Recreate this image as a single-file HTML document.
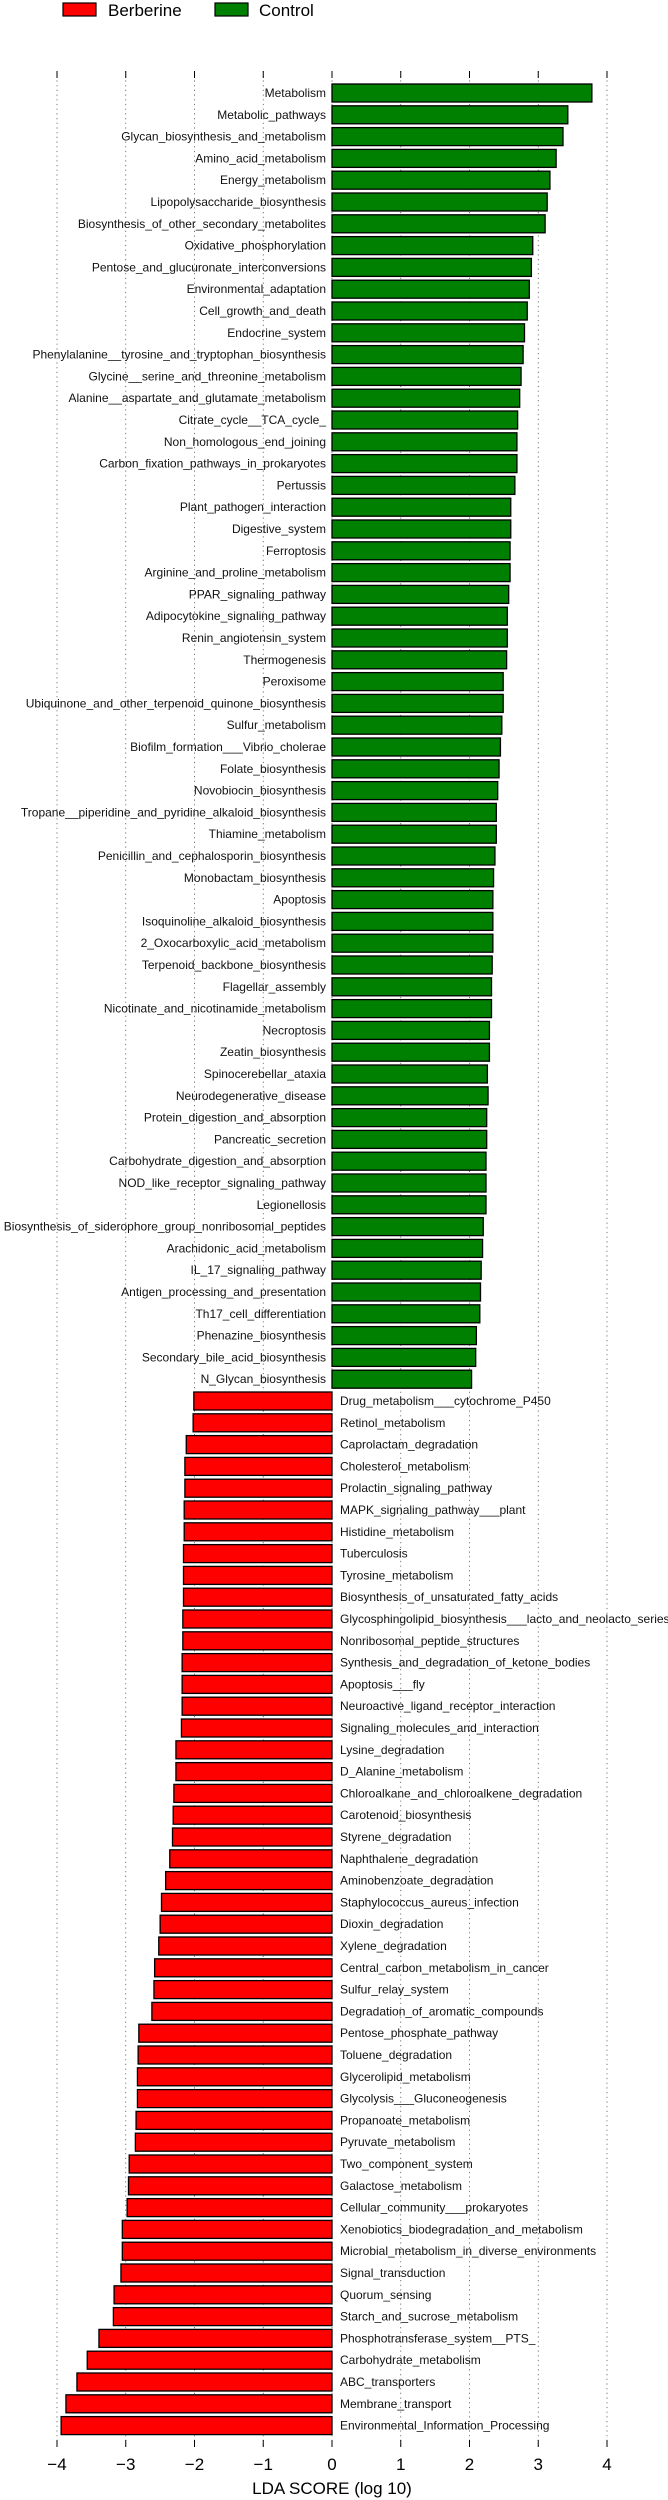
<!DOCTYPE html>
<html><head><meta charset="utf-8">
<style>
html,body{margin:0;padding:0;background:#fff;}
svg{display:block;font-family:"Liberation Sans","DejaVu Sans",sans-serif;}
</style></head>
<body>
<svg id="chart" width="668" height="2500" viewBox="0 0 668 2500" xmlns="http://www.w3.org/2000/svg">
  <g>
    <rect x="63" y="3" width="33" height="13" fill="#ff0000" stroke="#000" stroke-width="1.2"/>
    <text x="108" y="16" font-size="17">Berberine</text>
    <rect x="215" y="3" width="33" height="13" fill="#008000" stroke="#000" stroke-width="1.2"/>
    <text x="259" y="16" font-size="17">Control</text>
  </g>
  <g id="grid"></g>
  <g id="bars"></g>
  <g id="axis"></g>
  <text x="332" y="2494" font-size="17" text-anchor="middle">LDA SCORE (log 10)</text>
</svg>
<script>
const controlNames = ["Metabolism","Metabolic_pathways","Glycan_biosynthesis_and_metabolism","Amino_acid_metabolism","Energy_metabolism","Lipopolysaccharide_biosynthesis","Biosynthesis_of_other_secondary_metabolites","Oxidative_phosphorylation","Pentose_and_glucuronate_interconversions","Environmental_adaptation","Cell_growth_and_death","Endocrine_system","Phenylalanine__tyrosine_and_tryptophan_biosynthesis","Glycine__serine_and_threonine_metabolism","Alanine__aspartate_and_glutamate_metabolism","Citrate_cycle__TCA_cycle_","Non_homologous_end_joining","Carbon_fixation_pathways_in_prokaryotes","Pertussis","Plant_pathogen_interaction","Digestive_system","Ferroptosis","Arginine_and_proline_metabolism","PPAR_signaling_pathway","Adipocytokine_signaling_pathway","Renin_angiotensin_system","Thermogenesis","Peroxisome","Ubiquinone_and_other_terpenoid_quinone_biosynthesis","Sulfur_metabolism","Biofilm_formation___Vibrio_cholerae","Folate_biosynthesis","Novobiocin_biosynthesis","Tropane__piperidine_and_pyridine_alkaloid_biosynthesis","Thiamine_metabolism","Penicillin_and_cephalosporin_biosynthesis","Monobactam_biosynthesis","Apoptosis","Isoquinoline_alkaloid_biosynthesis","2_Oxocarboxylic_acid_metabolism","Terpenoid_backbone_biosynthesis","Flagellar_assembly","Nicotinate_and_nicotinamide_metabolism","Necroptosis","Zeatin_biosynthesis","Spinocerebellar_ataxia","Neurodegenerative_disease","Protein_digestion_and_absorption","Pancreatic_secretion","Carbohydrate_digestion_and_absorption","NOD_like_receptor_signaling_pathway","Legionellosis","Biosynthesis_of_siderophore_group_nonribosomal_peptides","Arachidonic_acid_metabolism","IL_17_signaling_pathway","Antigen_processing_and_presentation","Th17_cell_differentiation","Phenazine_biosynthesis","Secondary_bile_acid_biosynthesis","N_Glycan_biosynthesis"];
const controlScores = [3.78,3.43,3.36,3.26,3.17,3.13,3.10,2.92,2.90,2.87,2.84,2.80,2.78,2.75,2.73,2.70,2.69,2.69,2.66,2.60,2.60,2.59,2.59,2.57,2.55,2.55,2.54,2.49,2.49,2.47,2.45,2.43,2.41,2.39,2.39,2.37,2.35,2.34,2.34,2.34,2.33,2.32,2.32,2.29,2.29,2.26,2.27,2.25,2.25,2.24,2.24,2.24,2.20,2.19,2.17,2.16,2.15,2.10,2.09,2.03];
const berberineNames = ["Drug_metabolism___cytochrome_P450","Retinol_metabolism","Caprolactam_degradation","Cholesterol_metabolism","Prolactin_signaling_pathway","MAPK_signaling_pathway___plant","Histidine_metabolism","Tuberculosis","Tyrosine_metabolism","Biosynthesis_of_unsaturated_fatty_acids","Glycosphingolipid_biosynthesis___lacto_and_neolacto_series","Nonribosomal_peptide_structures","Synthesis_and_degradation_of_ketone_bodies","Apoptosis___fly","Neuroactive_ligand_receptor_interaction","Signaling_molecules_and_interaction","Lysine_degradation","D_Alanine_metabolism","Chloroalkane_and_chloroalkene_degradation","Carotenoid_biosynthesis","Styrene_degradation","Naphthalene_degradation","Aminobenzoate_degradation","Staphylococcus_aureus_infection","Dioxin_degradation","Xylene_degradation","Central_carbon_metabolism_in_cancer","Sulfur_relay_system","Degradation_of_aromatic_compounds","Pentose_phosphate_pathway","Toluene_degradation","Glycerolipid_metabolism","Glycolysis___Gluconeogenesis","Propanoate_metabolism","Pyruvate_metabolism","Two_component_system","Galactose_metabolism","Cellular_community___prokaryotes","Xenobiotics_biodegradation_and_metabolism","Microbial_metabolism_in_diverse_environments","Signal_transduction","Quorum_sensing","Starch_and_sucrose_metabolism","Phosphotransferase_system__PTS_","Carbohydrate_metabolism","ABC_transporters","Membrane_transport","Environmental_Information_Processing"];
const berberineScores = [-2.01,-2.02,-2.12,-2.14,-2.14,-2.15,-2.15,-2.16,-2.16,-2.16,-2.17,-2.17,-2.18,-2.18,-2.18,-2.19,-2.27,-2.27,-2.30,-2.31,-2.32,-2.36,-2.42,-2.48,-2.50,-2.52,-2.58,-2.59,-2.62,-2.81,-2.82,-2.83,-2.83,-2.85,-2.86,-2.95,-2.96,-2.98,-3.05,-3.05,-3.07,-3.17,-3.18,-3.39,-3.56,-3.71,-3.87,-3.94];
const tickValues = [-4,-3,-2,-1,0,1,2,3,4];
const tickLabels = ["\u22124","\u22123","\u22122","\u22121","0","1","2","3","4"];

const NS = "http://www.w3.org/2000/svg";
const X0 = 332, UNIT = 68.75;
function xScale(v){ return X0 + v*UNIT; }
const ROW0 = 93, PITCH = 21.8, BAR_H = 18;
function yScale(i){ return ROW0 + i*PITCH; }
function mk(tag, attrs){ const e=document.createElementNS(NS,tag); for(const k in attrs) e.setAttribute(k,attrs[k]); return e; }

const grid = document.getElementById('grid');
const axis = document.getElementById('axis');
tickValues.forEach((v,k)=>{
  const x = xScale(v);
  const gl = mk('line',{x1:x,y1:71,x2:x,y2:2447,stroke:'#555','stroke-width':0.8,'stroke-dasharray':'1.2,3.5'});
  
  
  grid.appendChild(gl);
  const tt = mk('line',{x1:x,y1:71,x2:x,y2:78,stroke:'#000','stroke-width':1});
  
  
  axis.appendChild(tt);
  const tb = mk('line',{x1:x,y1:2440,x2:x,y2:2447,stroke:'#000','stroke-width':1});
  
  
  axis.appendChild(tb);
  const tl = mk('text',{x:x,y:2470,'font-size':17,'text-anchor':'middle'});
  tl.textContent = tickLabels[k];
  
  
  axis.appendChild(tl);
});

const bars = document.getElementById('bars');
function drawBar(name, v, i, color){
  const y = yScale(i);
  const x1 = xScale(Math.min(0,v)), x2 = xScale(Math.max(0,v));
  const r = mk('rect',{x:x1,y:y-BAR_H/2,width:x2-x1,height:BAR_H,fill:color,stroke:'#000','stroke-width':1.3});
  
  
  bars.appendChild(r);
  const t = mk('text',{y:y+4,'font-size':12,fill:'#111'});
  if(v>=0){ t.setAttribute('x',xScale(0)-6); t.setAttribute('text-anchor','end'); }
  else { t.setAttribute('x',xScale(0)+8); t.setAttribute('text-anchor','start'); }
  t.textContent = name;
  
  
  bars.appendChild(t);
}
controlNames.forEach((n,i)=>drawBar(n,controlScores[i],i,'#008000'));
berberineNames.forEach((n,j)=>drawBar(n,berberineScores[j],controlNames.length+j,'#ff0000'));
</script>
</body></html>
